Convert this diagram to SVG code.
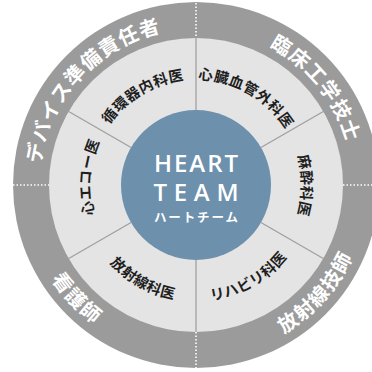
<svg xmlns="http://www.w3.org/2000/svg" xmlns:xlink="http://www.w3.org/1999/xlink" width="372" height="372" viewBox="0 0 372 372">
  <style>
    .outer { fill: #ffffff; font-family: "Noto Sans CJK JP", "Noto Sans", sans-serif; font-size: 20px; font-weight: 700; letter-spacing: 1.2px; }
    .inner { fill: #1e1e1e; font-family: "Noto Sans CJK JP", "Noto Sans", sans-serif; font-size: 14.5px; font-weight: 700; letter-spacing: 0.5px; }
    .div { stroke: #a0a0a0; stroke-width: 1.3; fill: none; }
    .dot { stroke: #ffffff; stroke-width: 1.6; stroke-dasharray: 1.5 2; fill: none; }
    .core { fill: #ffffff; font-family: "Open Sans", "Noto Sans", sans-serif; font-size: 24px; font-weight: 600; }
  </style>
  <defs>
    <path id="ocw" d="M196,341.5 A156.5,156.5 0 1 1 196,28.5 A156.5,156.5 0 1 1 196,341.5"/>
    <path id="occw" d="M196,12.5 A172.5,172.5 0 1 0 196,357.5 A172.5,172.5 0 1 0 196,12.5"/>
    <path id="icw" d="M196,290.5 A105.5,105.5 0 1 1 196,79.5 A105.5,105.5 0 1 1 196,290.5"/>
    <path id="iccw" d="M196,68.5 A116.5,116.5 0 1 0 196,301.5 A116.5,116.5 0 1 0 196,68.5"/>
  </defs>
  <rect width="372" height="372" fill="#ffffff"/>
  <g id="rings">
    <circle cx="196" cy="185" r="183" fill="#9b9b9b"/>
    <circle cx="196" cy="185" r="147" fill="#e4e4e4"/>
  </g>
  <g id="connectors">
    <line class="div" x1="131.05" y1="147.5" x2="68.7" y2="111.5"/>
    <line class="div" x1="260.95" y1="147.5" x2="323.3" y2="111.5"/>
    <line class="div" x1="131.05" y1="222.5" x2="68.7" y2="258.5"/>
    <line class="div" x1="260.95" y1="222.5" x2="323.3" y2="258.5"/>
    <line class="div" x1="196" y1="110" x2="196" y2="38"/>
    <line class="div" x1="196" y1="260" x2="196" y2="332"/>
    <line class="dot" x1="196" y1="3" x2="196" y2="38"/>
    <line class="dot" x1="196" y1="332" x2="196" y2="368"/>
    <line class="dot" x1="13" y1="185" x2="49" y2="185"/>
    <line class="dot" x1="343" y1="185" x2="372" y2="185"/>
  </g>
  <g id="heart-team">
    <circle cx="196" cy="185" r="75" fill="#6d90ad"/>
    <text class="core" x="196" y="172" text-anchor="middle" textLength="84" lengthAdjust="spacing">HEART</text>
    <text class="core" x="196" y="201" text-anchor="middle" textLength="85" lengthAdjust="spacing">TEAM</text>
    <text x="196" y="222" text-anchor="middle" textLength="84" lengthAdjust="spacing" fill="#ffffff" font-family="'Noto Sans CJK JP', sans-serif" font-size="12.5" font-weight="700">ハートチーム</text>
  </g>
  <g id="device-manager">
    <text class="outer"><textPath xlink:href="#ocw" href="#ocw" startOffset="361.9" text-anchor="middle">デバイス準備責任者</textPath></text>
  </g>
  <g id="clinical-engineer">
    <text class="outer"><textPath xlink:href="#ocw" href="#ocw" startOffset="631" text-anchor="middle">臨床工学技士</textPath></text>
  </g>
  <g id="nurse">
    <text class="outer"><textPath xlink:href="#occw" href="#occw" startOffset="401.9" text-anchor="middle">看護師</textPath></text>
  </g>
  <g id="radiology-technician">
    <text class="outer"><textPath xlink:href="#occw" href="#occw" startOffset="686.4" text-anchor="middle">放射線技師</textPath></text>
  </g>
  <g id="echo">
    <text class="inner"><textPath xlink:href="#icw" href="#icw" startOffset="173.1" text-anchor="middle">心エコー医</textPath></text>
  </g>
  <g id="cardiology">
    <text class="inner"><textPath xlink:href="#icw" href="#icw" startOffset="274.4" text-anchor="middle">循環器内科医</textPath></text>
  </g>
  <g id="cardiovascular-surgery">
    <text class="inner"><textPath xlink:href="#icw" href="#icw" startOffset="385.8" text-anchor="middle">心臓血管外科医</textPath></text>
  </g>
  <g id="anesthesiology">
    <text class="inner"><textPath xlink:href="#icw" href="#icw" startOffset="497.2" text-anchor="middle">麻酔科医</textPath></text>
  </g>
  <g id="radiology">
    <text class="inner"><textPath xlink:href="#iccw" href="#iccw" startOffset="306" text-anchor="middle">放射線科医</textPath></text>
  </g>
  <g id="rehabilitation">
    <text class="inner"><textPath xlink:href="#iccw" href="#iccw" startOffset="426" text-anchor="middle">リハビリ科医</textPath></text>
  </g>
</svg>
